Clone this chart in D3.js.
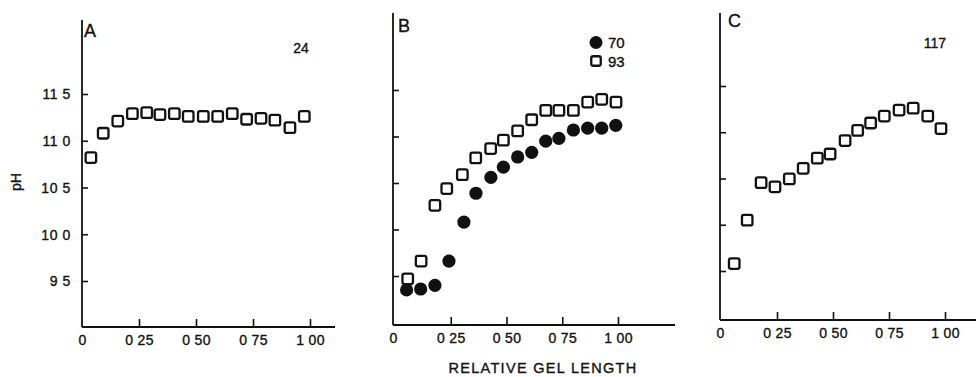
<!DOCTYPE html>
<html>
<head>
<meta charset="utf-8">
<script src="https://cdn.jsdelivr.net/npm/d3@7"></script>
<style>
  html, body { margin: 0; padding: 0; background: #fff; }
  svg { display: block; }
  text { font-family: "Liberation Sans", Arial, sans-serif; fill: #111; stroke: #111; stroke-width: 0.35px; }
</style>
</head>
<body>
<svg id="chart" width="976" height="377"></svg>
<script>
// ---------- data ----------
const xTickValues = [0, 0.25, 0.5, 0.75, 1.0];
const xTickLabels = ["0", "0 25", "0 50", "0 75", "1 00"];
const yTickValues = [9.5, 10.0, 10.5, 11.0, 11.5];
const yTickLabels = ["9 5", "10 0", "10 5", "11 0", "11 5"];

// Panel A (sample 24)
const aX  = [0.039,0.093,0.157,0.221,0.284,0.342,0.405,0.466,0.532,0.595,0.659,0.722,0.785,0.846,0.912,0.975];
const aPH = [10.82,11.08,11.21,11.29,11.30,11.28,11.29,11.26,11.26,11.26,11.29,11.23,11.24,11.22,11.14,11.26];

// Panel B (samples 70 and 93)
const b70X  = [0.052,0.115,0.179,0.242,0.309,0.363,0.430,0.486,0.550,0.613,0.676,0.735,0.800,0.864,0.927,0.990];
const b70PH = [9.35,9.36,9.40,9.66,10.08,10.39,10.56,10.67,10.78,10.83,10.95,10.98,11.07,11.09,11.09,11.12];
const b93X  = [0.057,0.117,0.179,0.232,0.302,0.362,0.429,0.486,0.550,0.613,0.676,0.735,0.800,0.864,0.927,0.991];
const b93PH = [9.47,9.66,10.26,10.44,10.59,10.77,10.87,10.96,11.06,11.18,11.28,11.28,11.28,11.37,11.40,11.37];

// Panel C (sample 117)
const cX  = [0.059,0.117,0.179,0.241,0.305,0.367,0.430,0.487,0.554,0.610,0.668,0.729,0.795,0.858,0.923,0.982];
const cPH = [9.58,10.05,10.455,10.41,10.495,10.61,10.72,10.765,10.91,11.02,11.10,11.175,11.24,11.26,11.175,11.04];

const panelLetters = ["A", "B", "C"];
const panelNotes = ["24", null, "117"];
const legendLabels = ["70", "93"];
const yAxisTitle = "pH";
const xAxisTitle = "RELATIVE GEL LENGTH";

// ---------- layout ----------
const svg = d3.select("#chart");
const panels = [
  { x0: 82,  x1: 310, yTop: 94, yBot: 281, axisX: 82,  axisTop: 20, axisBottom: 327, xEnd: 335, showY: true,
    series: [{ x: aX, y: aPH, type: "square" }],
    letter: [84, 37], note: [301, 53] },
  { x0: 395, x1: 618, yTop: 90, yBot: 276, axisX: 393, axisTop: 13, axisBottom: 325, xEnd: 675, showY: false,
    series: [{ x: b93X, y: b93PH, type: "square" }, { x: b70X, y: b70PH, type: "circle" }],
    letter: [398, 32], note: null },
  { x0: 721, x1: 945, yTop: 86, yBot: 271, axisX: 720, axisTop: 13, axisBottom: 320, xEnd: 976, showY: false,
    series: [{ x: cX, y: cPH, type: "square" }],
    letter: [728, 27], note: [935, 48] }
];

function drawSquare(sel, size) {
  return sel.append("rect")
    .attr("x", -size / 2).attr("y", -size / 2)
    .attr("width", size).attr("height", size)
    .attr("rx", 2)
    .attr("fill", "#fff").attr("stroke", "#111").attr("stroke-width", 2.3);
}

panels.forEach((p, i) => {
  const x = d3.scaleLinear().domain([0, 1]).range([p.x0, p.x1]);
  const y = d3.scaleLinear().domain([9.5, 11.5]).range([p.yBot, p.yTop]);
  const g = svg.append("g");

  // axis lines
  g.append("line").attr("x1", p.axisX).attr("x2", p.axisX)
    .attr("y1", p.axisTop).attr("y2", p.axisBottom)
    .attr("stroke", "#111").attr("stroke-width", 1.8);
  g.append("line").attr("x1", p.axisX).attr("x2", p.xEnd)
    .attr("y1", p.axisBottom).attr("y2", p.axisBottom)
    .attr("stroke", "#111").attr("stroke-width", 1.8);

  // y axis ticks
  const yAxis = d3.axisLeft(y).tickValues(yTickValues)
    .tickSize(-6).tickPadding(p.showY ? 11 : 0)
    .tickFormat((d, k) => p.showY ? yTickLabels[k] : "");
  const ya = g.append("g").attr("transform", `translate(${p.axisX},0)`).call(yAxis);
  ya.select(".domain").remove();
  ya.selectAll(".tick line").attr("stroke", "#111").attr("stroke-width", 1.6);
  ya.selectAll(".tick text").attr("font-size", 14).attr("fill", "#111")
    .attr("font-family", "Liberation Sans, Arial, sans-serif").attr("letter-spacing", "0.6px")
    .attr("dy", "0.35em");

  // x axis ticks
  const xAxis = d3.axisBottom(x).tickValues(xTickValues)
    .tickSize(-8).tickPadding(8)
    .tickFormat((d, k) => xTickLabels[k]);
  const xa = g.append("g").attr("transform", `translate(0,${p.axisBottom})`).call(xAxis);
  xa.select(".domain").remove();
  xa.selectAll(".tick line").attr("stroke", "#111").attr("stroke-width", 1.6)
    .attr("display", d => d === 0 ? "none" : null);
  xa.selectAll(".tick text").attr("font-size", 14).attr("fill", "#111")
    .attr("font-family", "Liberation Sans, Arial, sans-serif").attr("letter-spacing", "0.3px")
    .attr("x", d => d === 0 ? p.axisX - x(0) : 0);

  // series
  p.series.forEach(s => {
    const pts = s.x.map((v, k) => [v, s.y[k]]);
    const sel = g.append("g").selectAll("g").data(pts).join("g")
      .attr("transform", d => `translate(${x(d[0])},${y(d[1])})`);
    if (s.type === "square") drawSquare(sel, 10.5);
    else sel.append("circle").attr("r", 6.6).attr("fill", "#111");
  });

  // panel letter and note
  g.append("text").attr("x", p.letter[0]).attr("y", p.letter[1])
    .attr("font-size", 18).text(panelLetters[i]);
  if (p.note) {
    g.append("text").attr("x", p.note[0]).attr("y", p.note[1])
      .attr("text-anchor", "middle").attr("font-size", 14).text(panelNotes[i]);
  }
});

// legend in panel B
const leg = svg.append("g").attr("transform", "translate(596,0)");
leg.append("circle").attr("cx", 0).attr("cy", 42.5).attr("r", 6.5).attr("fill", "#111");
leg.append("text").attr("x", 12).attr("y", 47.5).attr("font-size", 15).text(legendLabels[0]);
const sq = leg.append("g").attr("transform", "translate(0,61)");
drawSquare(sq, 9.5);
leg.append("text").attr("x", 12).attr("y", 66.5).attr("font-size", 15).text(legendLabels[1]);

// axis titles
svg.append("text").attr("transform", "translate(21,182) rotate(-90)")
  .attr("text-anchor", "middle").attr("font-size", 14).text(yAxisTitle);
svg.append("text").attr("x", 543).attr("y", 373)
  .attr("text-anchor", "middle").attr("font-size", 14.5).attr("letter-spacing", "1.3px")
  .text(xAxisTitle);
</script>
</body>
</html>
